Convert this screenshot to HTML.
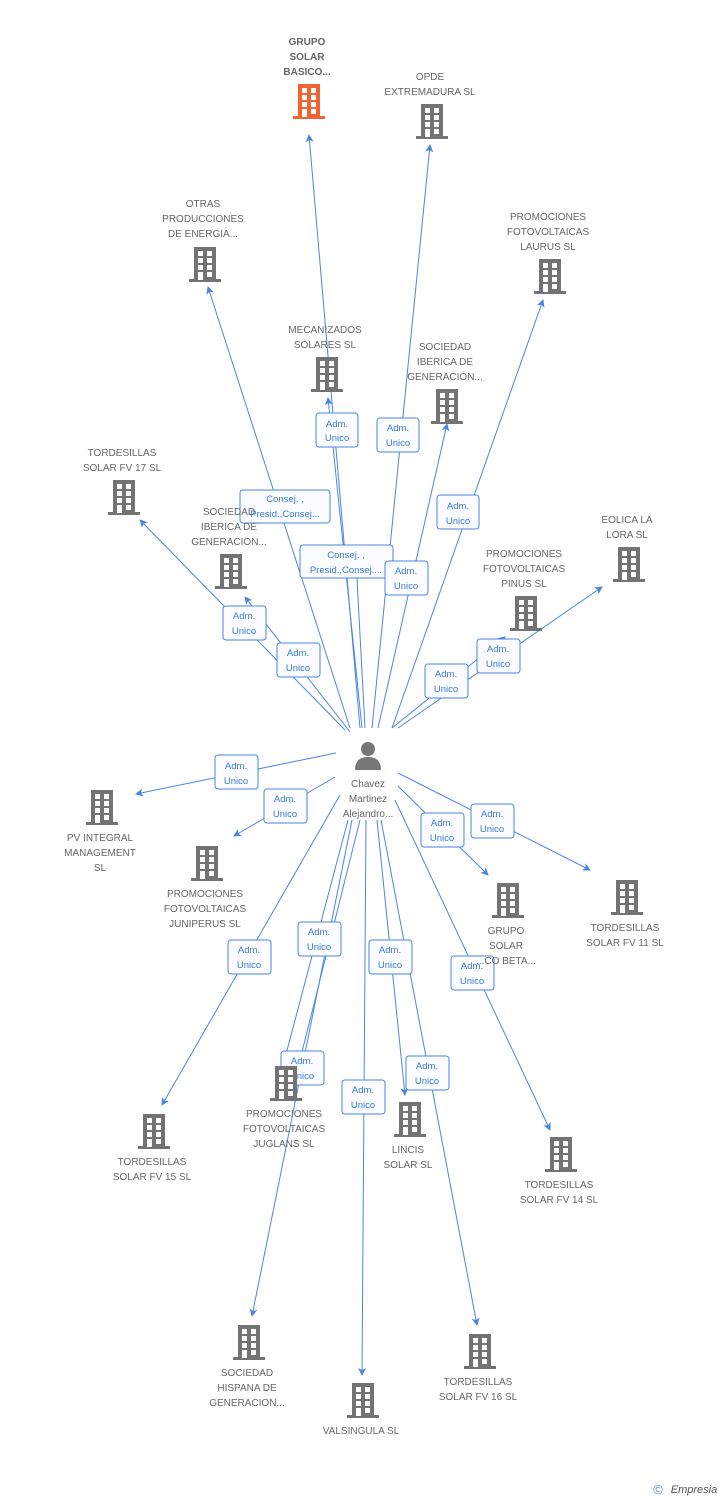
<!DOCTYPE html>
<html><head><meta charset="utf-8"><style>
body{margin:0;background:#fff;width:728px;height:1500px;overflow:hidden}
svg{display:block}
text{font-family:"Liberation Sans",sans-serif;font-size:10px;fill:#666;text-anchor:middle}
.l{stroke:#4a86e0;stroke-width:1;fill:none}
.b rect.bx{fill:#fafcff;stroke:#4a86e0;stroke-width:1}
.bt{fill:#3a7bd8;font-size:9.5px}
</style></head><body>
<svg width="728" height="1500" viewBox="0 0 728 1500" xmlns="http://www.w3.org/2000/svg">
<defs>
<symbol id="bld" viewBox="0 0 32 36">
<rect x="5" y="0" width="22" height="34" fill="currentColor"/>
<rect x="0" y="32" width="32" height="3" fill="currentColor"/>
<g fill="#fff">
<rect x="9" y="4" width="5" height="5"/><rect x="18" y="4" width="5" height="5"/>
<rect x="9" y="11" width="5" height="5"/><rect x="18" y="11" width="5" height="5"/>
<rect x="9" y="18" width="5" height="5"/><rect x="18" y="18" width="5" height="5"/>
<rect x="9" y="25" width="5" height="8"/><rect x="18" y="25" width="5" height="5"/>
</g></symbol>
<marker id="a" markerWidth="8" markerHeight="8" refX="7" refY="4" orient="auto" markerUnits="userSpaceOnUse"><path d="M0,0 L8,4 L0,8 L2,4z" fill="#4a86e0"/></marker>
</defs>

<!-- lines -->
<g class="l" marker-end="url(#a)">
<line x1="360" y1="728" x2="309" y2="135"/>
<line x1="372" y1="728" x2="430" y2="145"/>
<line x1="350" y1="728" x2="208" y2="287"/>
<line x1="392" y1="728" x2="543" y2="300"/>
<line x1="362" y1="728" x2="328" y2="398"/>
<line x1="378" y1="728" x2="447" y2="424"/>
<line x1="345" y1="730" x2="140" y2="520"/>
<line x1="350" y1="732" x2="245" y2="597"/>
<line x1="398" y1="728" x2="602" y2="587"/>
<line x1="392" y1="728" x2="505" y2="637"/>
<line x1="336" y1="753" x2="136" y2="794"/>
<line x1="335" y1="777" x2="234" y2="836"/>
<line x1="398" y1="786" x2="488" y2="875"/>
<line x1="398" y1="773" x2="590" y2="870"/>
<line x1="340" y1="795" x2="162" y2="1105"/>
<line x1="348" y1="820" x2="285" y2="1058"/>
<line x1="377" y1="820" x2="405" y2="1095"/>
<line x1="395" y1="800" x2="550" y2="1130"/>
<line x1="352" y1="820" x2="252" y2="1316"/>
<line x1="366" y1="820" x2="362" y2="1375"/>
<line x1="381" y1="820" x2="477" y2="1325"/>
</g>
<g class="l">
<line x1="365" y1="728" x2="356" y2="560"/>
<line x1="360" y1="820" x2="300" y2="1060"/>
</g>

<!-- label boxes -->
<g class="b">
<rect class="bx" x="316" y="413" width="42" height="34" rx="3"/><text class="bt" x="337" y="427">Adm.</text><text class="bt" x="337" y="441">Unico</text>
<rect class="bx" x="377" y="418" width="42" height="34" rx="3"/><text class="bt" x="398" y="431">Adm.</text><text class="bt" x="398" y="446">Unico</text>
<rect class="bx" x="437" y="495" width="42" height="34" rx="3"/><text class="bt" x="458" y="509">Adm.</text><text class="bt" x="458" y="524">Unico</text>
<rect class="bx" x="240" y="490" width="90" height="33" rx="3"/><text class="bt" x="285" y="502">Consej. ,</text><text class="bt" x="285" y="517">Presid.,Consej...</text>
<rect class="bx" x="300" y="545" width="93" height="33" rx="3"/><text class="bt" x="346" y="558">Consej. ,</text><text class="bt" x="346" y="573">Presid.,Consej....</text>
<rect class="bx" x="385" y="561" width="43" height="34" rx="3"/><text class="bt" x="406" y="574">Adm.</text><text class="bt" x="406" y="589">Unico</text>
<rect class="bx" x="223" y="606" width="43" height="34" rx="3"/><text class="bt" x="244" y="619">Adm.</text><text class="bt" x="244" y="634">Unico</text>
<rect class="bx" x="277" y="643" width="43" height="34" rx="3"/><text class="bt" x="298" y="656">Adm.</text><text class="bt" x="298" y="671">Unico</text>
<rect class="bx" x="425" y="664" width="43" height="34" rx="3"/><text class="bt" x="446" y="677">Adm.</text><text class="bt" x="446" y="692">Unico</text>
<rect class="bx" x="477" y="639" width="43" height="34" rx="3"/><text class="bt" x="498" y="652">Adm.</text><text class="bt" x="498" y="667">Unico</text>
<rect class="bx" x="215" y="755" width="43" height="34" rx="3"/><text class="bt" x="236" y="769">Adm.</text><text class="bt" x="236" y="784">Unico</text>
<rect class="bx" x="264" y="789" width="43" height="34" rx="3"/><text class="bt" x="285" y="802">Adm.</text><text class="bt" x="285" y="817">Unico</text>
<rect class="bx" x="421" y="813" width="43" height="34" rx="3"/><text class="bt" x="442" y="826">Adm.</text><text class="bt" x="442" y="841">Unico</text>
<rect class="bx" x="471" y="804" width="43" height="34" rx="3"/><text class="bt" x="492" y="817">Adm.</text><text class="bt" x="492" y="832">Unico</text>
<rect class="bx" x="228" y="940" width="43" height="34" rx="3"/><text class="bt" x="249" y="953">Adm.</text><text class="bt" x="249" y="968">Unico</text>
<rect class="bx" x="298" y="922" width="43" height="34" rx="3"/><text class="bt" x="319" y="935">Adm.</text><text class="bt" x="319" y="950">Unico</text>
<rect class="bx" x="369" y="940" width="43" height="34" rx="3"/><text class="bt" x="390" y="953">Adm.</text><text class="bt" x="390" y="968">Unico</text>
<rect class="bx" x="451" y="956" width="43" height="34" rx="3"/><text class="bt" x="472" y="969">Adm.</text><text class="bt" x="472" y="984">Unico</text>
<rect class="bx" x="281" y="1051" width="43" height="34" rx="3"/><text class="bt" x="302" y="1064">Adm.</text><text class="bt" x="302" y="1079">Unico</text>
<rect class="bx" x="406" y="1056" width="43" height="34" rx="3"/><text class="bt" x="427" y="1069">Adm.</text><text class="bt" x="427" y="1084">Unico</text>
<rect class="bx" x="342" y="1080" width="43" height="34" rx="3"/><text class="bt" x="363" y="1093">Adm.</text><text class="bt" x="363" y="1108">Unico</text>
</g>

<!-- center person -->
<g fill="#777">
<circle cx="368" cy="749" r="7"/>
<path d="M355,770 Q355,757 368,757 Q381,757 381,770 Z"/>
</g>
<text x="368" y="787">Chavez</text><text x="368" y="802">Martinez</text><text x="368" y="817">Alejandro...</text>

<!-- buildings -->
<g color="#737373">
<use href="#bld" x="293" y="84" width="32" height="36" color="#f26330"/>
<use href="#bld" x="416" y="104" width="32" height="36"/>
<use href="#bld" x="189" y="247" width="32" height="36"/>
<use href="#bld" x="534" y="259" width="32" height="36"/>
<use href="#bld" x="311" y="357" width="32" height="36"/>
<use href="#bld" x="431" y="389" width="32" height="36"/>
<use href="#bld" x="108" y="480" width="32" height="36"/>
<use href="#bld" x="215" y="554" width="32" height="36"/>
<use href="#bld" x="613" y="547" width="32" height="36"/>
<use href="#bld" x="510" y="596" width="32" height="36"/>
<use href="#bld" x="86" y="790" width="32" height="36"/>
<use href="#bld" x="191" y="846" width="32" height="36"/>
<use href="#bld" x="492" y="883" width="32" height="36"/>
<use href="#bld" x="611" y="880" width="32" height="36"/>
<use href="#bld" x="138" y="1114" width="32" height="36"/>
<use href="#bld" x="270" y="1066" width="32" height="36"/>
<use href="#bld" x="394" y="1102" width="32" height="36"/>
<use href="#bld" x="545" y="1137" width="32" height="36"/>
<use href="#bld" x="233" y="1325" width="32" height="36"/>
<use href="#bld" x="347" y="1383" width="32" height="36"/>
<use href="#bld" x="464" y="1334" width="32" height="36"/>
</g>

<!-- node labels -->
<g>
<text x="307" y="45" style="font-weight:bold">GRUPO</text><text x="307" y="60" style="font-weight:bold">SOLAR</text><text x="307" y="75" style="font-weight:bold">BASICO...</text>
<text x="430" y="80">OPDE</text><text x="430" y="95">EXTREMADURA SL</text>
<text x="203" y="207">OTRAS</text><text x="203" y="222">PRODUCCIONES</text><text x="203" y="237">DE ENERGIA...</text>
<text x="548" y="220">PROMOCIONES</text><text x="548" y="235">FOTOVOLTAICAS</text><text x="548" y="250">LAURUS SL</text>
<text x="325" y="333">MECANIZADOS</text><text x="325" y="348">SOLARES SL</text>
<text x="445" y="350">SOCIEDAD</text><text x="445" y="365">IBERICA DE</text><text x="445" y="380">GENERACION...</text>
<text x="122" y="456">TORDESILLAS</text><text x="122" y="471">SOLAR FV 17 SL</text>
<text x="229" y="515">SOCIEDAD</text><text x="229" y="530">IBERICA DE</text><text x="229" y="545">GENERACION...</text>
<text x="627" y="523">EOLICA LA</text><text x="627" y="538">LORA SL</text>
<text x="524" y="557">PROMOCIONES</text><text x="524" y="572">FOTOVOLTAICAS</text><text x="524" y="587">PINUS SL</text>
<text x="100" y="841">PV INTEGRAL</text><text x="100" y="856">MANAGEMENT</text><text x="100" y="871">SL</text>
<text x="205" y="897">PROMOCIONES</text><text x="205" y="912">FOTOVOLTAICAS</text><text x="205" y="927">JUNIPERUS SL</text>
<text x="506" y="934">GRUPO</text><text x="506" y="949">SOLAR</text><text x="506" y="964">...CO BETA...</text>
<text x="625" y="931">TORDESILLAS</text><text x="625" y="946">SOLAR FV 11 SL</text>
<text x="152" y="1165">TORDESILLAS</text><text x="152" y="1180">SOLAR FV 15 SL</text>
<text x="284" y="1117">PROMOCIONES</text><text x="284" y="1132">FOTOVOLTAICAS</text><text x="284" y="1147">JUGLANS SL</text>
<text x="408" y="1153">LINCIS</text><text x="408" y="1168">SOLAR SL</text>
<text x="559" y="1188">TORDESILLAS</text><text x="559" y="1203">SOLAR FV 14 SL</text>
<text x="247" y="1376">SOCIEDAD</text><text x="247" y="1391">HISPANA DE</text><text x="247" y="1406">GENERACION...</text>
<text x="361" y="1434">VALSINGULA SL</text>
<text x="478" y="1385">TORDESILLAS</text><text x="478" y="1400">SOLAR FV 16 SL</text>
</g>

<text x="658" y="1494" style="fill:#4a86e0;font-size:13px">©</text>
<text x="694" y="1493" style="fill:#555;font-size:11px;font-style:italic">Empresia</text>
</svg>
</body></html>
